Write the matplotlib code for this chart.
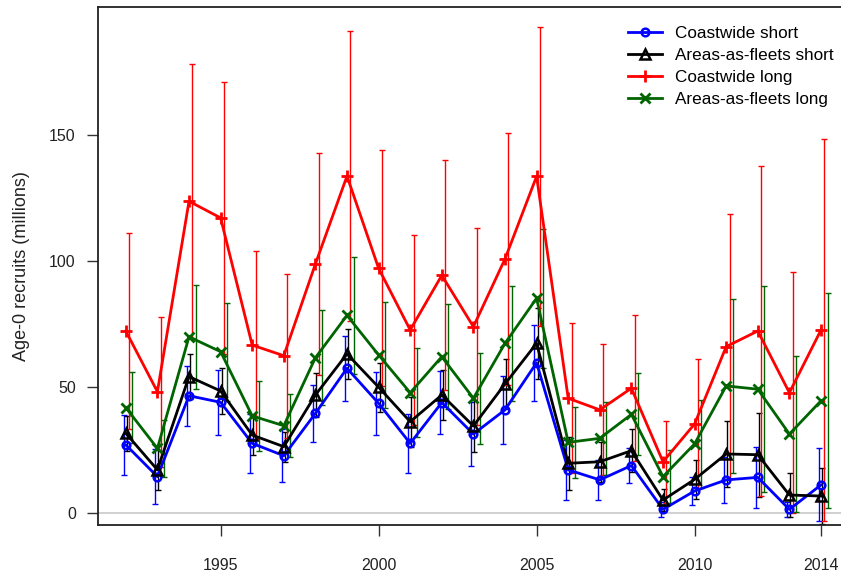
import matplotlib
matplotlib.use("Agg")
import matplotlib.pyplot as plt
import numpy as np

plt.rcParams['font.family'] = ['Liberation Sans', 'DejaVu Sans']

years = list(range(1992, 2015))

coast_short = [26.9, 14.3, 46.4, 43.8, 27.5, 22.6, 39.4, 57.3, 43.4, 27.5, 43.7, 31.2,
               40.8, 59.5, 17.0, 13.0, 18.7, 1.3, 8.6, 13.0, 14.0, 1.3, 11.0]
coast_short_se = [12, 11, 12, 13, 11.7, 10.5, 11.3, 13, 12.6, 11.7, 12.4, 12.6,
                  13.5, 15, 12, 8, 7, 3, 5.5, 9, 12, 3, 14.5]

aaf_short = [31.5, 17.0, 54.0, 48.3, 30.8, 26.2, 46.7, 63.0, 49.8, 36.1, 46.7, 34.4,
             51.1, 67.2, 19.6, 20.2, 24.6, 5.0, 13.2, 23.3, 23.0, 7.0, 6.6]
aaf_short_se = [7, 8, 9, 9, 8, 6, 8.6, 9.8, 9.7, 10, 10, 10.5,
                10, 14, 10.6, 8, 8.6, 4.4, 7.7, 13, 16.7, 8.6, 11]

coast_long = [72.1, 48.0, 123.6, 117.0, 66.5, 62.3, 98.7, 133.6, 97.0, 72.5, 94.2, 73.8,
              100.7, 133.5, 45.4, 40.8, 49.4, 20.2, 35.2, 65.9, 72.1, 47.6, 72.5]
coast_long_se = [38.9, 29.8, 54.4, 54.0, 37.3, 32.5, 44.2, 57.4, 46.9, 37.7, 45.7, 39.2,
                 50.0, 59.4, 29.8, 26.0, 28.9, 16.2, 25.9, 52.6, 65.6, 47.9, 75.9]

aaf_long = [41.7, 25.5, 69.8, 63.9, 38.4, 34.5, 61.5, 78.3, 62.6, 47.6, 61.9, 45.4,
            67.2, 85.1, 27.9, 29.5, 39.0, 14.3, 27.3, 50.3, 49.0, 31.2, 44.4]
aaf_long_se = [14.0, 11.3, 20.6, 19.4, 14.0, 12.5, 18.9, 23.1, 21.1, 17.6, 20.9, 18.1,
               22.8, 27.6, 14.2, 14.5, 16.3, 10.6, 17.4, 34.5, 41.0, 31.0, 42.7]

labels = ["Coastwide short", "Areas-as-fleets short", "Coastwide long", "Areas-as-fleets long"]
colors = ["#0000ff", "#000000", "#ff0000", "#006400"]
markers = ["o", "^", "+", "x"]
msizes = [5.5, 6.5, 9, 7]
offsets = [-0.07, 0.03, 0.11, 0.21]

series = [(coast_short, coast_short_se), (aaf_short, aaf_short_se),
          (coast_long, coast_long_se), (aaf_long, aaf_long_se)]

fig = plt.figure(figsize=(8.41, 5.84), dpi=100)
ax = fig.add_axes([98/841, 59/584, (848.8-98)/841, (525-7)/584])

ax.axhline(0, color="#c8c8c8", lw=1.2, zorder=0)

yrs = np.array(years, dtype=float)
handles = []
for (vals, se), c, off in zip(series, colors, offsets):
    ax.errorbar(yrs + off, vals, yerr=se, fmt='none', ecolor=c, elinewidth=1.0,
                capsize=2, capthick=1.0, zorder=2)
for (vals, se), c, m, ms, lab in zip(series, colors, markers, msizes, labels):
    if m in ("o", "^"):
        h, = ax.plot(yrs, vals, color=c, lw=2.0, marker=m, ms=ms, mfc='none', mew=1.8,
                     label=lab, zorder=3)
    else:
        h, = ax.plot(yrs, vals, color=c, lw=2.0, marker=m, ms=ms, mew=2.0,
                     label=lab, zorder=3)
    handles.append(h)

ax.set_xlim(1991.12, 2014.88)
ax.set_ylim(-4.9, 200.7)
ax.set_xticks([1995, 2000, 2005, 2010, 2014])
ax.set_yticks([0, 50, 100, 150])
ax.tick_params(direction='out', length=8, width=1, labelsize=11.5, color='#333333',
               labelcolor='#222222')
ax.tick_params(axis='x', pad=16)
ax.tick_params(axis='y', pad=8)
for s in ax.spines.values():
    s.set_linewidth(1.3)
    s.set_color('#222222')
ax.set_ylabel("Age-0 recruits (millions)", fontsize=13, color='#222222', labelpad=14)

leg = fig.legend(handles=handles, loc='upper left', bbox_to_anchor=(621/841, 1-19/584),
                 frameon=False, fontsize=12.3, handlelength=2.0, labelspacing=0.42,
                 handletextpad=0.75, borderaxespad=0)

fig.savefig("out.png", dpi=100)
